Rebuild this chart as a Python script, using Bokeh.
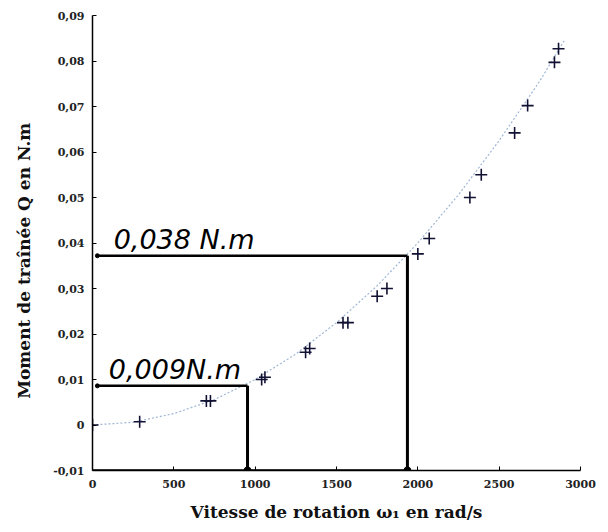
import math
from bokeh.plotting import figure
from bokeh.models import FixedTicker, Range1d, ColumnDataSource
from bokeh.core.properties import value
from bokeh.embed import file_html
from bokeh.resources import INLINE

# measured points (rad/s, N.m)
omega_meas = [0, 290, 700, 725, 1040, 1060, 1310, 1335, 1540, 1570, 1750, 1810,
              2000, 2070, 2320, 2390, 2595, 2675, 2840, 2865]
Q_meas = [0.0, 0.0007, 0.0053, 0.0053, 0.0100, 0.0105, 0.0160, 0.0168, 0.0225, 0.0225,
          0.0283, 0.0300, 0.0376, 0.0410, 0.0500, 0.0550, 0.0642, 0.0702, 0.0797, 0.0827]

# fitted curve
omega_fit = [0, 250, 500, 750, 1000, 1250, 1500, 1750, 2000, 2250, 2500, 2750, 2900]
Q_fit = [0.0, 0.0006, 0.0025, 0.0056, 0.0100, 0.0156, 0.0225, 0.0306, 0.0400,
         0.0506, 0.0625, 0.0756, 0.0845]

# hand-drawn read-offs
annot_omega = [953, 1936]
annot_Q = [0.0086, 0.0372]
annot_text = ["0,009N.m", "0,038 N.m"]

x_ticks = [0, 500, 1000, 1500, 2000, 2500, 3000]
x_labels = ["0", "500", "1000", "1500", "2000", "2500", "3000"]
y_ticks = [-0.01, 0.0, 0.01, 0.02, 0.03, 0.04, 0.05, 0.06, 0.07, 0.08, 0.09]
y_labels = ["-0,01", "0", "0,01", "0,02", "0,03", "0,04", "0,05", "0,06", "0,07", "0,08", "0,09"]

x_title = "Vitesse de rotation ω₁ en rad/s"
y_title = "Moment de traînée Q en N.m"

x_min, x_max = 0, 3000
y_min, y_max = -0.01, 0.09

p = figure(width=600, height=524, output_backend="svg", toolbar_location=None,
           x_range=Range1d(x_min, x_max), y_range=Range1d(y_min, y_max),
           min_border_left=92, min_border_right=20, min_border_top=15, min_border_bottom=52)
p.outline_line_color = None
p.xgrid.visible = False
p.ygrid.visible = False
p.background_fill_color = "white"

serif = "DejaVu Serif"
p.xaxis.ticker = FixedTicker(ticks=x_ticks)
p.yaxis.ticker = FixedTicker(ticks=y_ticks)
p.xaxis.major_label_overrides = {t: l for t, l in zip(x_ticks, x_labels)}
p.yaxis.major_label_overrides = {t: l for t, l in zip(y_ticks, y_labels)}
for ax in (p.xaxis[0], p.yaxis[0]):
    ax.major_label_text_font = serif
    ax.major_label_text_font_style = "bold"
    ax.major_label_text_font_size = "11px"
    ax.major_label_text_color = "#222222"
    ax.axis_line_color = "black"
    ax.axis_line_width = 1.5
    ax.major_tick_in = 4
    ax.major_tick_out = 0
    ax.major_tick_line_color = "black"
    ax.minor_tick_line_color = None
    ax.axis_label_text_font = serif
    ax.axis_label_text_font_style = "bold"
    ax.axis_label_text_font_size = "17px"
    ax.axis_label_text_color = "#111111"
p.xaxis.axis_label = x_title
# trailing no-break spaces shift the centred title slightly downwards, as in the original
p.yaxis.axis_label = y_title + "\u00a0" * 6
p.xaxis.major_label_standoff = 9
p.yaxis.major_label_standoff = 8
p.xaxis.axis_label_standoff = 11
p.yaxis.axis_label_standoff = 16

# fitted curve
p.line(omega_fit, Q_fit, line_color="#9fb6d6", line_width=1.2, line_dash="2 2")

# measured points
p.scatter(omega_meas, Q_meas, marker="cross", size=12, line_color="#111133", line_width=1.6)

# hand-drawn read-off lines
for om, q in zip(annot_omega, annot_Q):
    p.line([x_min + 30, om], [q, q], line_color="black", line_width=2.5)
    p.line([om, om], [q, y_min], line_color="black", line_width=3)
    p.scatter([om], [y_min], marker="circle", size=7, fill_color="black", line_color="black")
    p.scatter([x_min + 30], [q], marker="circle", size=4, fill_color="black", line_color="black")
p.line([x_min, max(annot_omega)], [y_min, y_min], line_color="black", line_width=2.5)

src = ColumnDataSource(dict(x=[x_min + 100, x_min + 130], y=annot_Q, t=annot_text))
p.text(x="x", y="y", text="t", source=src, text_font=value("DejaVu Sans"),
       text_font_style="italic", text_font_size="27px", text_baseline="alphabetic",
       y_offset=-16, text_color="black")

open("out.html", "w").write(file_html(p, INLINE))
